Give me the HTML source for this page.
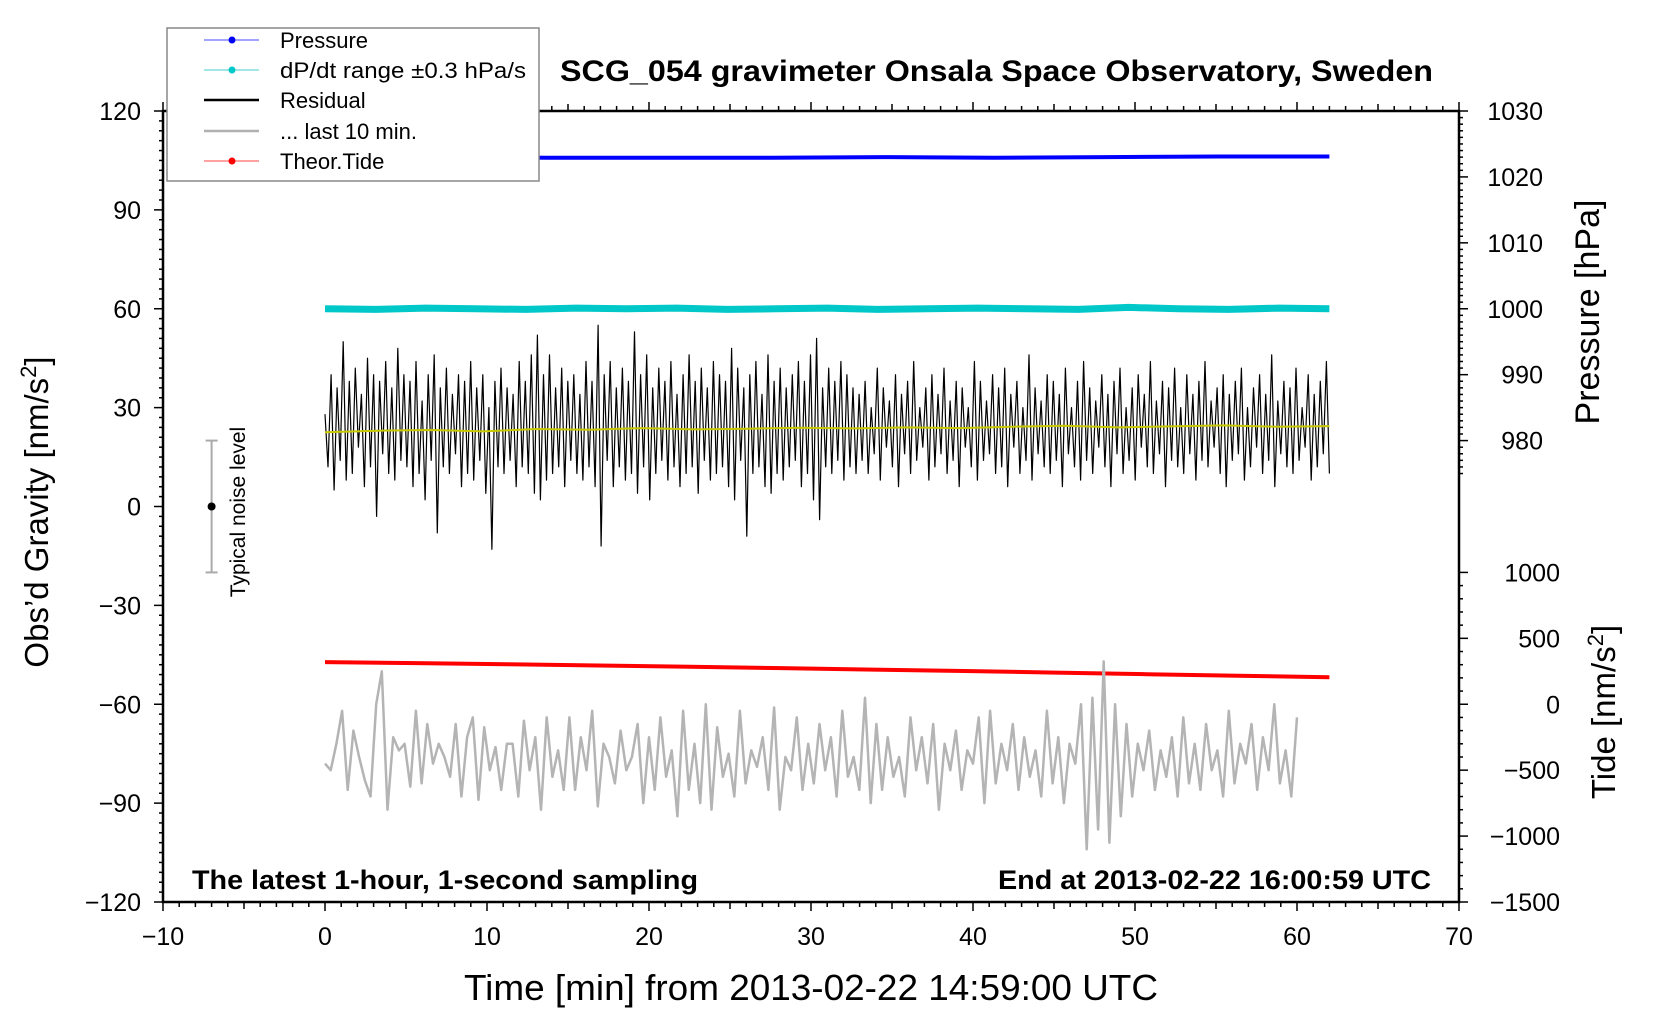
<!DOCTYPE html>
<html><head><meta charset="utf-8">
<style>
body{margin:0;background:#fff;}
svg{display:block;font-family:"Liberation Sans",sans-serif;}
</style></head>
<body>
<svg id="chart" width="1660" height="1020" viewBox="0 0 1660 1020" xmlns="http://www.w3.org/2000/svg">
<rect width="1660" height="1020" fill="#fff"/>
<g id="marks"></g>
<g id="axes"></g>
<text x="560" y="81" textLength="873" lengthAdjust="spacingAndGlyphs" font-size="30" font-weight="bold">SCG_054 gravimeter Onsala Space Observatory, Sweden</text>
<text x="192" y="889" textLength="506" lengthAdjust="spacingAndGlyphs" font-size="27" font-weight="bold">The latest 1‑hour, 1‑second sampling</text>
<text x="998" y="889" textLength="433" lengthAdjust="spacingAndGlyphs" font-size="27" font-weight="bold">End at 2013‑02‑22 16:00:59 UTC</text>
<text x="464" y="1000" textLength="694" lengthAdjust="spacingAndGlyphs" font-size="36">Time [min] from 2013‑02‑22 14:59:00 UTC</text>
<text transform="translate(48,512) rotate(-90)" text-anchor="middle" font-size="33">Obs’d Gravity [nm/s<tspan dy="-12" font-size="22">2</tspan><tspan dy="12">]</tspan></text>
<text transform="translate(1599,312) rotate(-90)" text-anchor="middle" font-size="34">Pressure [hPa]</text>
<text transform="translate(1615,712) rotate(-90)" text-anchor="middle" font-size="33">Tide [nm/s<tspan dy="-12" font-size="22">2</tspan><tspan dy="12">]</tspan></text>
<g>
<text transform="translate(245,512) rotate(-90)" text-anchor="middle" font-size="21">Typical noise level</text>
</g>
<g>
<rect x="167" y="28" width="372" height="153" fill="#fff" stroke="#888" stroke-width="1.5"/>
<g><line x1="204" y1="40" x2="259" y2="40" stroke="#4444ff" stroke-width="1"/><circle cx="232" cy="40" r="3.5" fill="#0000ff"/><text x="280" y="48" font-size="22">Pressure</text></g>
<g><line x1="204" y1="70" x2="259" y2="70" stroke="#44cccc" stroke-width="1"/><circle cx="232" cy="70" r="3.5" fill="#00c8c8"/><text x="280" y="78" font-size="22" textLength="246" lengthAdjust="spacingAndGlyphs">dP/dt range ±0.3 hPa/s</text></g>
<g><line x1="204" y1="100" x2="259" y2="100" stroke="#000" stroke-width="2.5"/><text x="280" y="108" font-size="22">Residual</text></g>
<g><line x1="204" y1="131" x2="259" y2="131" stroke="#b0b0b0" stroke-width="2.5"/><text x="280" y="139" font-size="22">... last 10 min.</text></g>
<g><line x1="204" y1="161" x2="259" y2="161" stroke="#ff4444" stroke-width="1"/><circle cx="232" cy="161" r="3.5" fill="#ff0000"/><text x="280" y="169" font-size="22">Theor.Tide</text></g>
</g>
</svg>
<script>
// ---- data ----
const xTicks=[-10,0,10,20,30,40,50,60,70];
const yTicks=[-120,-90,-60,-30,0,30,60,90,120];
const pTicks=[980,990,1000,1010,1020,1030];
const tideTicks=[-1500,-1000,-500,0,500,1000];
const pressureVals=[1023.1,1023.0,1022.9,1022.9,1022.9,1023.0,1022.9,1023.0,1023.1,1023.1];
const dpdtVals=[1000,999.9,1000.1,1000,999.9,1000.1,1000,1000.1,999.9,1000,1000.1,999.9,1000,1000.1,1000,999.9,1000.2,1000,999.9,1000.1,1000];
const tideVals=[320,312,303,294,284,274,263,252,240,228,216,205];
const smoothVals=[22.5,23,23.2,22.8,23.5,23.3,23.8,23.4,23.6,23.9,23.7,24,23.8,24.2,24.5,24,24.3,24.6,24.2,24.4];
const residualVals=[28,12,40,5,36,14,50,8,38,10,42,18,34,6,45,12,40,-3,38,16,44,10,36,8,48,14,40,12,38,6,44,10,32,2,40,14,46,-8,36,12,42,10,34,16,40,6,38,10,44,8,36,14,40,4,30,-13,38,12,42,10,36,14,34,6,44,12,38,10,46,4,52,2,40,8,46,10,36,12,42,6,38,14,40,10,34,8,44,12,38,6,55,-12,40,14,44,6,36,12,42,8,38,10,53,4,40,12,46,2,36,10,42,14,38,8,44,12,34,6,40,10,46,12,38,4,42,14,36,8,44,10,40,12,38,6,48,2,42,14,36,-9,40,10,44,12,34,6,46,4,38,10,42,8,36,12,40,14,44,6,38,10,46,2,51,-4,36,12,42,10,38,14,44,8,40,12,36,10,
34,14,38,10,30,16,42,8,36,18,32,12,40,6,34,16,38,10,44,14,30,18,36,8,40,12,34,16,42,10,32,14,38,6,36,18,30,12,44,8,38,14,32,16,40,10,36,12,42,6,34,18,38,10,30,14,46,8,36,16,32,12,40,10,38,14,34,6,42,16,30,12,38,8,44,14,36,10,32,18,40,12,34,6,38,16,42,10,30,14,36,8,40,18,34,12,44,10,32,16,38,6,36,14,42,12,30,10,40,16,34,8,38,14,44,12,32,18,36,10,40,6,34,14,38,16,42,8,30,12,36,18,40,10,34,14,46,6,32,16,38,12,36,10,42,14,30,18,40,8,34,12,38,16,44,10];
const lastVals=[-78,-80,-72,-62,-86,-68,-76,-83,-88,-60,-50,-92,-70,-74,-72,-85,-62,-84,-66,-78,-72,-76,-82,-66,-88,-70,-64,-89,-67,-80,-73,-86,-72,-72,-88,-65,-80,-70,-92,-64,-82,-74,-86,-64,-86,-70,-80,-62,-91,-72,-76,-84,-68,-80,-76,-66,-90,-70,-86,-64,-82,-74,-94,-62,-86,-72,-90,-60,-92,-67,-82,-75,-88,-62,-84,-74,-79,-70,-86,-61,-92,-76,-80,-64,-86,-72,-84,-66,-80,-70,-88,-62,-82,-76,-86,-58,-90,-66,-86,-70,-82,-76,-88,-64,-80,-70,-84,-66,-92,-72,-80,-68,-86,-74,-78,-64,-90,-62,-84,-72,-80,-66,-86,-70,-82,-74,-88,-62,-84,-70,-90,-72,-78,-60,-104,-58,-98,-47,-102,-60,-94,-66,-88,-72,-80,-68,-86,-74,-82,-70,-88,-64,-84,-72,-86,-66,-80,-74,-88,-62,-84,-72,-78,-66,-86,-70,-80,-60,-84,-74,-88,-64];
// ---- scales ----
const X0=163,X1=1459,Y0=111,Y1=902;
const xs=v=>X0+(v+10)/80*(X1-X0);
const ys=v=>Y1-(v+120)/240*(Y1-Y0);
const ps=v=>Y0+(1030-v)*((ys(100)-Y0)/10);
const ts=v=>ys(-60)-v*(Y1-ys(-60))/1500;
const NS="http://www.w3.org/2000/svg";
const marks=document.getElementById('marks'),axes=document.getElementById('axes');
function el(t,a,p){const e=document.createElementNS(NS,t);for(const k in a)e.setAttribute(k,a[k]);(p||marks).appendChild(e);return e;}
function poly(vals,x0,x1,yf,stroke,w,name){
  const n=vals.length;const pts=vals.map((v,i)=>xs(x0+(x1-x0)*i/(n-1)).toFixed(1)+','+yf(v).toFixed(1)).join(' ');
  const e=el('polyline',{points:pts,fill:'none',stroke:stroke,'stroke-width':w,'stroke-linejoin':'round'});
  
  
  return e;
}
poly(pressureVals,0,62,ps,'#0000ff',4,'pressure-line');
poly(dpdtVals,0,62,ps,'#00c8c8',7,'dpdt-band');
poly(residualVals,0,62,ys,'#000',1.2,'residual-line');
poly(smoothVals,0,62,ys,'#c8c800',2,'smoothed-residual-line');
poly(tideVals,0,62,ts,'#ff0000',4,'theor-tide-line');
poly(lastVals,0,60,ys,'#b4b4b4',2.5,'last-10-min-line');
const nx=xs(-7);
el('line',{x1:nx,y1:ys(20),x2:nx,y2:ys(-20),stroke:'#aaa','stroke-width':2});
el('line',{x1:nx-6,y1:ys(20),x2:nx+6,y2:ys(20),stroke:'#aaa','stroke-width':2});
el('line',{x1:nx-6,y1:ys(-20),x2:nx+6,y2:ys(-20),stroke:'#aaa','stroke-width':2});
el('circle',{cx:nx,cy:ys(0),r:4,fill:'#000'});
const fr=el('rect',{x:X0,y:Y0,width:X1-X0,height:Y1-Y0,fill:'none',stroke:'#000','stroke-width':2.5},axes);


for(let m=-10;m<=70;m++){const x=xs(m);const L=m%10===0?9:(m%5===0?7:5);
  el('line',{x1:x,y1:Y1,x2:x,y2:Y1+L,stroke:'#000','stroke-width':1.5},axes);
  el('line',{x1:x,y1:Y0,x2:x,y2:Y0-L,stroke:'#000','stroke-width':1.5},axes);}
xTicks.forEach(v=>{const t=el('text',{x:xs(v),y:Y1+43,'text-anchor':'middle','font-size':25},axes);t.textContent=v<0?'\u2212'+(-v):v;
  
  });
for(let g=-120;g<=120;g+=3){const y=ys(g);const L=g%30===0?9:4;el('line',{x1:X0,y1:y,x2:X0-L,y2:y,stroke:'#000','stroke-width':1.5},axes);}
yTicks.forEach(v=>{const t=el('text',{x:X0-22,y:ys(v)+9,'text-anchor':'end','font-size':25},axes);t.textContent=v<0?'\u2212'+(-v):v;
  
  });
for(let p=975;p<=1030;p++){const y=ps(p);if(y>Y1)continue;const L=p%10===0?9:4;el('line',{x1:X1,y1:y,x2:X1+L,y2:y,stroke:'#000','stroke-width':1.5},axes);}
pTicks.forEach(v=>{const t=el('text',{x:X1+84,y:ps(v)+9,'text-anchor':'end','font-size':25},axes);t.textContent=v;
  
  });
for(let v=-1500;v<=1000;v+=100){const y=ts(v);const L=v%500===0?9:4;el('line',{x1:X1,y1:y,x2:X1+L,y2:y,stroke:'#000','stroke-width':1.5},axes);}
tideTicks.forEach(v=>{const t=el('text',{x:X1+101,y:ts(v)+9,'text-anchor':'end','font-size':25},axes);t.textContent=v<0?'\u2212'+(-v):v;
  
  });
</script>
</body></html>
